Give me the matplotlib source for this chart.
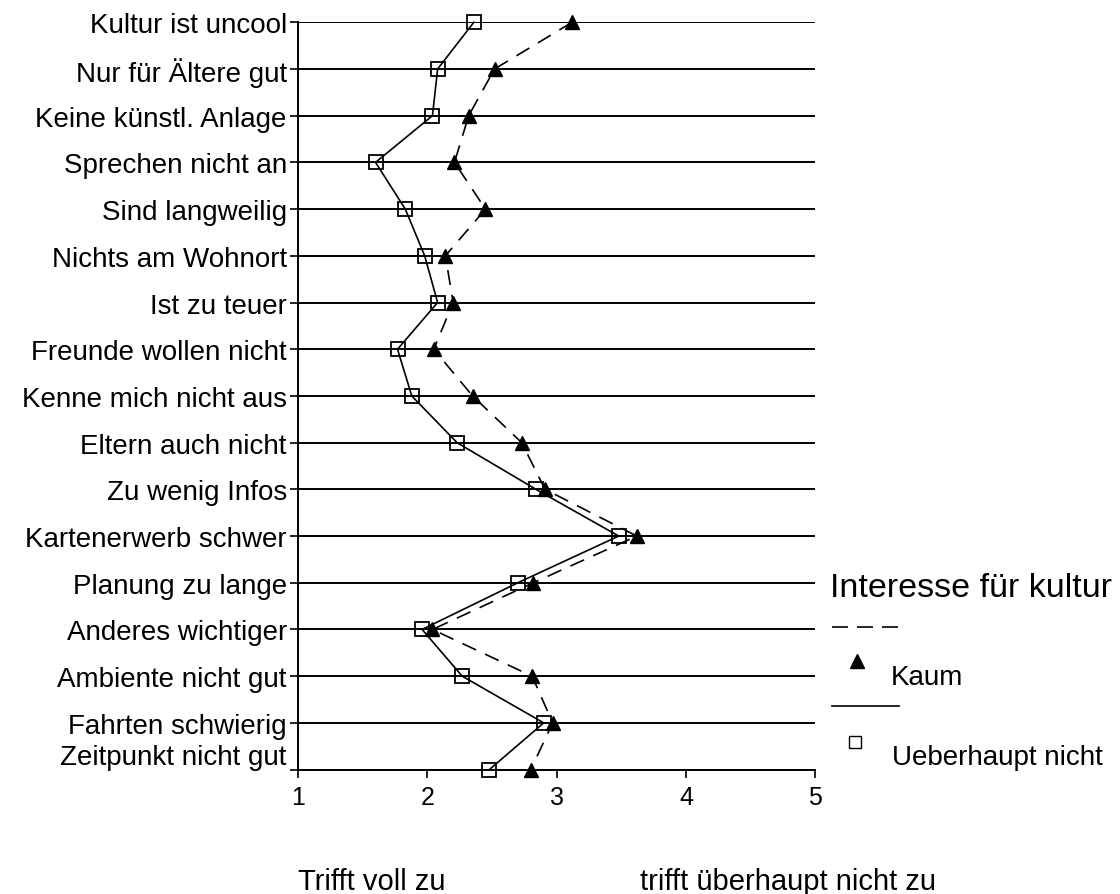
import matplotlib.pyplot as plt
import matplotlib.transforms as mtransforms
from matplotlib.lines import Line2D

plt.rcParams['font.family'] = ['Liberation Sans', 'DejaVu Sans']

# Categories (top to bottom) and mean ratings, 1 = trifft voll zu, 5 = trifft überhaupt nicht zu
categories = [
    'Kultur ist uncool', 'Nur für Ältere gut', 'Keine künstl. Anlage',
    'Sprechen nicht an', 'Sind langweilig', 'Nichts am Wohnort',
    'Ist zu teuer', 'Freunde wollen nicht', 'Kenne mich nicht aus',
    'Eltern auch nicht', 'Zu wenig Infos', 'Kartenerwerb schwer',
    'Planung zu lange', 'Anderes wichtiger', 'Ambiente nicht gut',
    'Fahrten schwierig', 'Zeitpunkt nicht gut',
]
kaum = [3.12, 2.52, 2.32, 2.21, 2.45, 2.14, 2.20, 2.05, 2.35,
        2.73, 2.91, 3.62, 2.82, 2.04, 2.81, 2.97, 2.80]
ueberhaupt = [2.36, 2.08, 2.04, 1.60, 1.83, 1.98, 2.08, 1.77, 1.88,
              2.23, 2.84, 3.48, 2.70, 1.96, 2.27, 2.90, 2.48]
x_ticks = [1, 2, 3, 4, 5]

fig = plt.figure(figsize=(11.2, 8.95), dpi=100)
ax = fig.add_axes([0.266, 0.139, 0.462, 0.835])

pos = list(range(len(categories)))

# horizontal grid lines at every category
for p in pos:
    ax.axhline(p, color='black', lw=1.4, zorder=1)

ax.plot(kaum, pos, color='black', lw=1.2, dashes=(9, 6), marker='^',
        markersize=10, markerfacecolor='black', zorder=3, clip_on=False)
ax.plot(ueberhaupt, pos, color='black', lw=1.2, marker='s',
        markersize=10, markerfacecolor='none', markeredgewidth=1.3, zorder=4,
        clip_on=False)

ax.set_xlim(1, 5)
ax.set_ylim(len(categories) - 1, 0)
ax.set_xticks(x_ticks)
ax.set_xticklabels([str(t) for t in x_ticks], fontsize=18)
ax.set_yticks(pos)
ax.set_yticklabels(categories, fontsize=20)
ax.tick_params(axis='y', length=6, width=1.2, pad=2)
ax.tick_params(axis='x', length=6, width=1.2, pad=5)

# last label sits a bit higher than its tick in the original
last = ax.get_yticklabels()[-1]
last.set_transform(last.get_transform() +
                   mtransforms.ScaledTranslation(0, 0.16, fig.dpi_scale_trans))

for s in ['top', 'right']:
    ax.spines[s].set_visible(False)
ax.spines['left'].set_linewidth(1.4)
ax.spines['bottom'].set_linewidth(1.4)

fig.text(0.266, 0.006, 'Trifft voll zu', fontsize=21, ha='left', va='baseline')
fig.text(0.571, 0.006, 'trifft überhaupt nicht zu', fontsize=21, ha='left',
         va='baseline')

# legend drawn by hand to match the original layout
fig.text(0.741, 0.343, 'Interesse für kultur', fontsize=24.5, ha='left', va='center')
fig.add_artist(Line2D([0.743, 0.802], [0.298, 0.298], color='black', lw=1.2,
                      dashes=(9.6, 5.4), transform=fig.transFigure))
fig.add_artist(Line2D([0.765], [0.2603], marker='^', markersize=10, color='black',
                      linestyle='none', transform=fig.transFigure))
fig.text(0.795, 0.243, 'Kaum', fontsize=20, ha='left', va='center')
fig.add_artist(Line2D([0.743, 0.803], [0.210, 0.210], color='black', lw=1.2,
                      transform=fig.transFigure))
fig.add_artist(Line2D([0.763], [0.170], marker='s', markersize=8, color='black',
                      markerfacecolor='none', linestyle='none',
                      transform=fig.transFigure))
fig.text(0.796, 0.153, 'Ueberhaupt nicht', fontsize=20, ha='left', va='center')

fig.savefig('out.png', dpi=100)
